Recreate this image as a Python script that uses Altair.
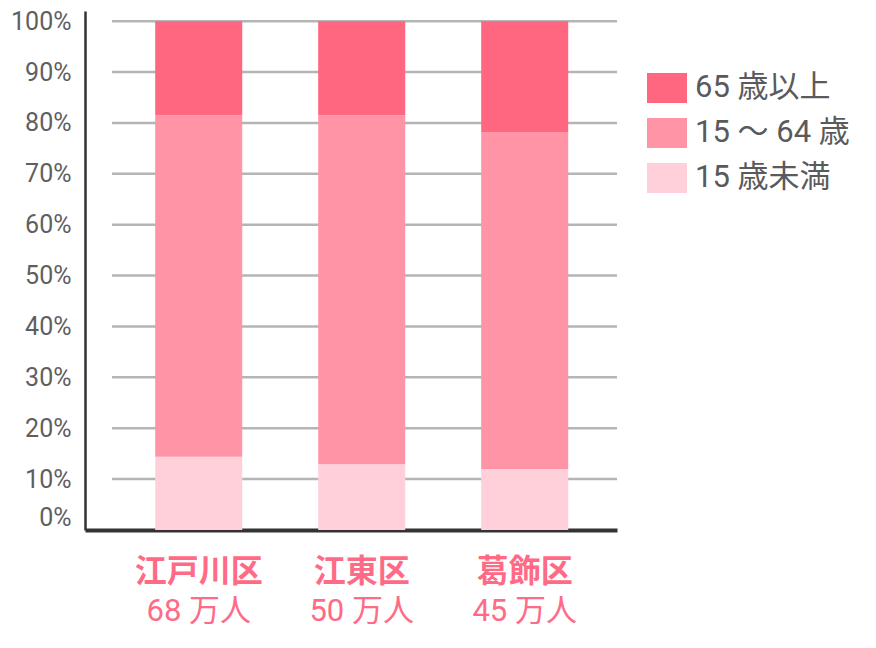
import altair as alt
import pandas as pd

wards = ["江戸川区", "江東区", "葛飾区"]
populations = ["68 万人", "50 万人", "45 万人"]
groups = ["65 歳以上", "15 ～ 64 歳", "15 歳未満"]
colors = ["#ff6680", "#ff94a6", "#ffd0d9"]
under15 = [14.4, 12.9, 12.0]
age15_64 = [67.1, 68.6, 66.1]
over65 = [18.5, 18.5, 21.9]
y_ticks = [0, 10, 20, 30, 40, 50, 60, 70, 80, 90, 100]

rows = []
for i, w in enumerate(wards):
    rows.append({"ward": w, "group": groups[2], "pct": under15[i], "ord": 0})
    rows.append({"ward": w, "group": groups[1], "pct": age15_64[i], "ord": 1})
    rows.append({"ward": w, "group": groups[0], "pct": over65[i], "ord": 2})
df = pd.DataFrame(rows)
grid_df = pd.DataFrame({"v": y_ticks[1:]})
lab_df = pd.DataFrame({"ward": wards, "pop": populations})

NUM_FONT = "Roboto, Noto Sans CJK JP, sans-serif"
JP_FONT = "Noto Sans CJK JP, sans-serif"

yscale = alt.Scale(domain=[0, 102], nice=False, zero=True)
xscale = alt.Scale(domain=wards, paddingInner=0.466, paddingOuter=0.365, align=0.59)

grid = alt.Chart(grid_df).mark_rule(color="#b5b5b5", strokeWidth=2.5).encode(
    y=alt.Y("v:Q", scale=yscale,
            axis=alt.Axis(values=y_ticks, labelExpr="datum.value + '%'", title=None,
                          ticks=False, grid=False, domain=True, domainColor="#333333",
                          domainWidth=2.5, labelFont=NUM_FONT, labelFontSize=25,
                          labelColor="#5f5f5f", labelPadding=14, labelFlush=True)),
    x=alt.value(27),
    x2=alt.value(532),
)

bars = alt.Chart(df).mark_bar().encode(
    x=alt.X("ward:N", sort=wards, scale=xscale,
            axis=alt.Axis(labels=False, ticks=False, title=None, domainColor="#333333",
                          domainWidth=4, grid=False)),
    y=alt.Y("pct:Q", stack="zero", scale=yscale),
    color=alt.Color("group:N", scale=alt.Scale(domain=groups, range=colors),
                    legend=alt.Legend(title=None, orient="none", legendX=562, legendY=57,
                                      symbolType="M-1,-0.75H1V0.75H-1Z", symbolSize=1600,
                                      symbolStrokeWidth=0, symbolOpacity=1,
                                      labelFont=NUM_FONT, labelFontSize=31,
                                      labelColor="#5a5a5a", labelOffset=8, rowPadding=10,
                                      padding=0, labelLimit=400)),
    order=alt.Order("ord:Q", sort="ascending"),
)

line1 = alt.Chart(lab_df).mark_text(
    font=JP_FONT, fontSize=32, fontWeight="bold", color="#ff6b86", baseline="middle", align="center"
).encode(x=alt.X("ward:N", sort=wards, scale=xscale), y=alt.value(561), text="ward:N")

line2 = alt.Chart(lab_df).mark_text(
    font=NUM_FONT, fontSize=31, color="#ff6b86", baseline="middle", align="center"
).encode(x=alt.X("ward:N", sort=wards, scale=xscale), y=alt.value(601), text="pop:N")

chart = alt.layer(grid, bars, line1, line2).properties(
    width=532, height=519,
    autosize=alt.AutoSizeParams(type="none"),
    padding={"left": 77, "top": 3, "right": 250, "bottom": 110},
).configure_view(strokeWidth=0)

chart.save("out.html", embed_options={"renderer": "svg", "actions": False})
